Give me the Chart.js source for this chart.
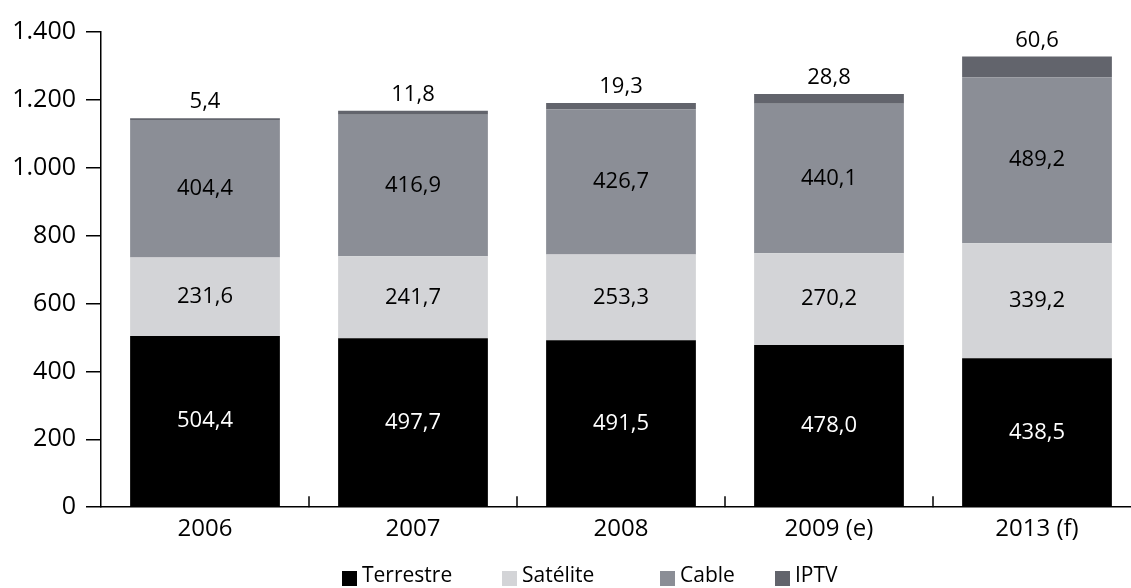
<!DOCTYPE html>
<html>
<head>
<meta charset="utf-8">
<script src="https://cdn.jsdelivr.net/npm/chart.js@4"></script>
<style>
  html, body { margin: 0; padding: 0; background: #fff; overflow: hidden; }
  #wrap { width: 1145px; height: 588px; }
</style>
</head>
<body>
<div id="wrap"><canvas id="myChart"></canvas></div>
<script>
// データ
const years = ['2006', '2007', '2008', '2009 (e)', '2013 (f)'];
const terrestre = [504.4, 497.7, 491.5, 478.0, 438.5];
const satelite = [231.6, 241.7, 253.3, 270.2, 339.2];
const cable = [404.4, 416.9, 426.7, 440.1, 489.2];
const iptv = [5.4, 11.8, 19.3, 28.8, 60.6];
const yTicks = [0, 200, 400, 600, 800, 1000, 1200, 1400];

const FONT = '"Open Sans", "Noto Sans", sans-serif';
//凡例の位置
const legendX = [342, 502, 660, 775];

//小数点はカンマ
function fmt(v) {
    return v.toFixed(1).replace('.', ',');
}

//値ラベル
const valueLabels = {
    id: 'valueLabels',
    afterDatasetsDraw(chart) {
        const ctx = chart.ctx;
        ctx.save();
        ctx.font = '22px ' + FONT;
        ctx.textAlign = 'center';
        chart.data.datasets.forEach((ds, di) => {
            const meta = chart.getDatasetMeta(di);
            meta.data.forEach((bar, i) => {
                const v = ds.data[i];
                if (di === 3) {
                    ctx.fillStyle = '#000';
                    ctx.textBaseline = 'alphabetic';
                    ctx.fillText(fmt(v), bar.x, bar.y - 10);
                } else {
                    ctx.fillStyle = di === 0 ? '#fff' : '#000';
                    ctx.textBaseline = 'middle';
                    ctx.fillText(fmt(v), bar.x, (bar.y + bar.base) / 2);
                }
            });
        });
        ctx.restore();
    }
};

//x軸の内向き目盛りと凡例
const extras = {
    id: 'extras',
    afterDraw(chart) {
        const x = chart.scales.x;
        const ctx = chart.ctx;
        const bottom = chart.chartArea.bottom;
        ctx.save();
        ctx.strokeStyle = '#000';
        ctx.lineWidth = 1.5;
        for (let i = 1; i < years.length; i++) {
            const px = (x.getPixelForTick(i - 1) + x.getPixelForTick(i)) / 2;
            ctx.beginPath();
            ctx.moveTo(px, bottom);
            ctx.lineTo(px, bottom - 11);
            ctx.stroke();
        }
        //凡例
        ctx.font = '21px ' + FONT;
        ctx.textBaseline = 'middle';
        ctx.textAlign = 'left';
        chart.data.datasets.forEach((ds, di) => {
            const lx = legendX[di];
            ctx.fillStyle = ds.backgroundColor;
            ctx.fillRect(lx, 571, 15, 15);
            ctx.fillStyle = '#000';
            ctx.fillText(ds.label, lx + 20, 576);
        });
        ctx.restore();
    }
};

const elem = document.getElementById('myChart');
const chart = new Chart(elem, {
    type: 'bar',
    data: {
        labels: years,
        datasets: [
            { label: 'Terrestre', data: terrestre, backgroundColor: '#000000' },
            { label: 'Satélite', data: satelite, backgroundColor: '#d3d4d7' },
            { label: 'Cable', data: cable, backgroundColor: '#8b8e96' },
            { label: 'IPTV', data: iptv, backgroundColor: '#62646c' }
        ]
    },
    options: {
        responsive: true,
        maintainAspectRatio: false,
        animation: false,
        layout: { padding: { top: 32, right: 4, left: 0, bottom: 44 } },
        datasets: {
            bar: { categoryPercentage: 1, barPercentage: 0.72, borderWidth: 0 }
        },
        scales: {
            x: {
                stacked: true,
                grid: { display: false, offset: true },
                border: { display: true, color: '#000', width: 1.5 },
                ticks: { color: '#000', font: { family: FONT, size: 24 }, padding: 0 }
            },
            y: {
                stacked: true,
                min: 0,
                max: 1400,
                afterBuildTicks(scale) {
                    scale.ticks = yTicks.map(v => ({ value: v }));
                },
                afterFit(scale) { scale.width = 101; },
                grid: { drawOnChartArea: false, color: '#000', lineWidth: 1.5, tickLength: 15 },
                border: { display: true, color: '#000', width: 1.5 },
                ticks: {
                    color: '#000',
                    font: { family: FONT, size: 25 },
                    padding: 10,
                    callback: v => v.toLocaleString('de-DE')
                }
            }
        },
        plugins: {
            legend: { display: false },
            tooltip: { enabled: false }
        }
    },
    plugins: [valueLabels, extras]
});
</script>
</body>
</html>
